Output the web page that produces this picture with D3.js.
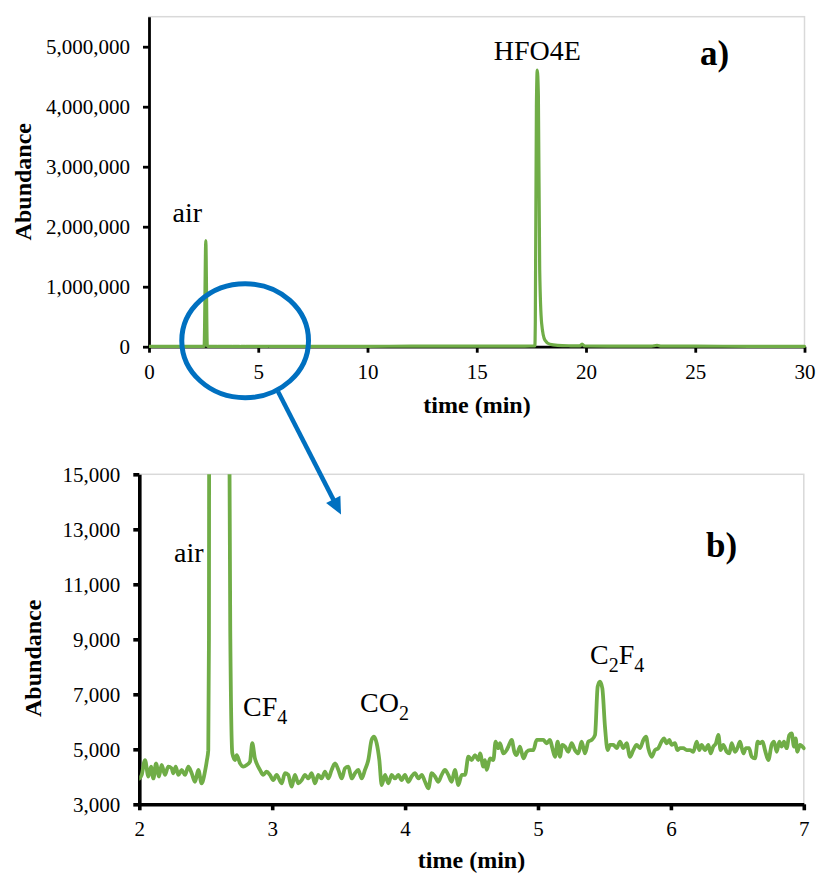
<!DOCTYPE html>
<html>
<head>
<meta charset="utf-8">
<script src="https://cdn.jsdelivr.net/npm/d3@7"></script>
<style>
  html, body { margin: 0; padding: 0; background: #fff; }
  svg { display: block; font-family: "Liberation Serif", "Times New Roman", serif; }
</style>
</head>
<body>
<svg id="chart" width="816" height="877"></svg>
<script>
// Chromatogram: retention time (min) and detector abundance
const timeMin = [
  0.00, 0.30, 0.70, 1.10, 1.50, 1.80,
  2.000, 2.018, 2.043, 2.068, 2.088, 2.106, 2.126, 2.148, 2.168, 2.193,
  2.218, 2.243, 2.256, 2.274, 2.294, 2.319, 2.344, 2.369, 2.394, 2.419,
  2.444, 2.469, 2.494, 2.509, 2.519, 2.524, 2.528, 2.600, 2.665, 2.685,
  2.700, 2.720, 2.733, 2.758, 2.783, 2.808, 2.833, 2.850, 2.870, 2.883,
  2.908, 2.933, 2.958, 2.983, 3.008, 3.033, 3.071, 3.096, 3.121, 3.146,
  3.171, 3.197, 3.222, 3.247, 3.272, 3.297, 3.322, 3.347, 3.372, 3.397,
  3.422, 3.447, 3.473, 3.498, 3.523, 3.548, 3.573, 3.598, 3.623, 3.648,
  3.673, 3.698, 3.723, 3.748, 3.766, 3.786, 3.806, 3.824, 3.849, 3.874,
  3.899, 3.924, 3.949, 3.974, 3.999, 4.024, 4.049, 4.074, 4.100, 4.125,
  4.150, 4.175, 4.200, 4.225, 4.250, 4.275, 4.300, 4.325, 4.350, 4.375,
  4.401, 4.426, 4.451, 4.476, 4.501, 4.526, 4.551, 4.564, 4.589, 4.601,
  4.614, 4.639, 4.664, 4.681, 4.701, 4.714, 4.739, 4.764, 4.777, 4.802,
  4.822, 4.839, 4.864, 4.890, 4.915, 4.940, 4.965, 4.990, 5.015, 5.040,
  5.065, 5.090, 5.108, 5.128, 5.148, 5.165, 5.183, 5.203, 5.228, 5.253,
  5.278, 5.303, 5.328, 5.354, 5.379, 5.404, 5.429, 5.449, 5.466, 5.484,
  5.504, 5.524, 5.542, 5.567, 5.592, 5.617, 5.642, 5.667, 5.692, 5.717,
  5.742, 5.767, 5.793, 5.813, 5.830, 5.855, 5.880, 5.905, 5.930, 5.948,
  5.968, 5.988, 6.006, 6.031, 6.048, 6.068, 6.093, 6.119, 6.144, 6.169,
  6.194, 6.214, 6.231, 6.257, 6.282, 6.299, 6.319, 6.339, 6.357, 6.374,
  6.394, 6.420, 6.440, 6.457, 6.482, 6.500, 6.520, 6.545, 6.565, 6.588,
  6.608, 6.633, 6.653, 6.670, 6.690, 6.708, 6.733, 6.758, 6.776, 6.796,
  6.816, 6.833, 6.851, 6.871, 6.891, 6.909, 6.926, 6.939, 6.951, 6.971,
  7.000,
  7.5, 8.5, 10, 12, 14, 16, 17.2, 17.66, 17.68, 17.73, 17.77, 17.82, 17.88,
  17.97, 18.12, 18.35, 18.7, 19.3, 19.72, 19.82, 19.93, 21, 23.0, 23.25,
  23.45, 25, 27.5, 30
];

const abundance = [
  4100, 4300, 4000, 4200, 4100, 4300,
  3940, 4070, 4610, 4010, 4370, 3940, 4490, 4010, 4430, 4070,
  4370, 4310, 4130, 4370, 4070, 4250, 4070, 4370, 4130, 3820,
  4250, 3760, 4190, 4610, 4970, 9000, 30000, 1770000, 30000, 9000,
  4850, 4610, 4790, 4490, 4370, 4430, 4550, 5220, 4670, 4490,
  4250, 4070, 4190, 4070, 3880, 4070, 3760, 4130, 4070, 3640,
  4070, 3760, 3880, 4070, 3940, 4130, 3760, 4070, 3940, 4190,
  3940, 4250, 4490, 4250, 3940, 4310, 4370, 3940, 4130, 4250,
  3940, 4250, 4610, 5340, 5460, 5220, 4610, 3700, 4070, 3760,
  4070, 3940, 4070, 3880, 4070, 3820, 4010, 4130, 3940, 4070,
  3820, 3580, 4130, 4010, 3820, 4070, 4250, 4070, 3820, 4250,
  3700, 4070, 4070, 4730, 4610, 4790, 4610, 4850, 4370, 4610,
  4250, 4670, 4610, 5280, 5040, 5220, 4850, 4970, 5100, 5340,
  4910, 4790, 5100, 4670, 4910, 4970, 4970, 5340, 5340, 5340,
  5220, 5340, 5040, 4730, 5280, 4730, 5160, 5100, 4910, 5220,
  4970, 4850, 5280, 4850, 5280, 5340, 5520, 7280, 7460, 7220,
  5820, 4970, 5160, 5160, 5040, 5280, 5040, 5220, 4730, 4970,
  5160, 5040, 5340, 5460, 5040, 4730, 4970, 5040, 5280, 5400,
  5220, 5340, 5160, 5220, 4970, 5040, 5040, 4970, 4970, 4910,
  5280, 4970, 5160, 4970, 5160, 4850, 5100, 5220, 5520, 4970,
  5160, 4910, 4850, 5220, 4910, 5040, 5280, 4850, 5040, 5040,
  4730, 4670, 5280, 5220, 5280, 4970, 4610, 5160, 5280, 4910,
  5280, 5100, 5280, 5040, 5520, 5580, 5100, 5400, 4910, 5160,
  5040,
  5100, 6000, 7000, 8000, 9000, 10000, 11000, 12000, 400000, 4000000, 4610000, 4200000, 1300000,
  390000, 110000, 40000, 22000, 15000, 13000, 45000, 13000, 10000, 9000, 24000,
  9000, 8000, 7000, 6500
];

// Axis ticks
const overviewXTicks = [0, 5, 10, 15, 20, 25, 30];
const overviewYTicks = [0, 1000000, 2000000, 3000000, 4000000, 5000000];
const zoomXTicks = [2, 3, 4, 5, 6, 7];
const zoomYTicks = [3000, 5000, 7000, 9000, 11000, 13000, 15000];

const series = timeMin.map((t, i) => ({ t, v: abundance[i] }));

const GREEN = "#70AD47";
const BLUE = "#0070C0";
const svg = d3.select("#chart");

function drawPanel(cfg) {
  const x = d3.scaleLinear().domain(cfg.xDomain).range([cfg.left, cfg.right]);
  const y = d3.scaleLinear().domain(cfg.yDomain).range([cfg.bottom, cfg.top]);
  const g = svg.append("g");

  // plot-area frame
  g.append("rect")
    .attr("x", cfg.left).attr("y", cfg.top)
    .attr("width", cfg.right - cfg.left).attr("height", cfg.bottom - cfg.top)
    .attr("fill", "none").attr("stroke", "#D9D9D9").attr("stroke-width", 1.5);

  const yAxis = d3.axisLeft(y).tickValues(cfg.yTicks).tickFormat(d3.format(","))
    .tickSize(6).tickSizeOuter(0).tickPadding(13);
  const xAxis = d3.axisBottom(x).tickValues(cfg.xTicks).tickFormat(d3.format("d"))
    .tickSize(6).tickSizeOuter(0).tickPadding(11);

  const ya = g.append("g").attr("transform", `translate(${cfg.left},0)`).call(yAxis);
  const xa = g.append("g").attr("transform", `translate(0,${cfg.bottom})`).call(xAxis);
  [ya, xa].forEach(a => {
    a.select(".domain").attr("stroke", "#000").attr("stroke-width", cfg.axisWidth);
    a.selectAll(".tick line").attr("stroke", "#000").attr("stroke-width", cfg.axisWidth);
    a.selectAll(".tick text").attr("fill", "#000")
      .style("font-family", '"Liberation Serif", "Times New Roman", serif')
      .style("font-size", "21px");
  });

  // trace
  const clipId = "clip" + cfg.id;
  svg.append("clipPath").attr("id", clipId).append("rect")
    .attr("x", cfg.left).attr("y", cfg.top)
    .attr("width", cfg.right - cfg.left + 2).attr("height", cfg.bottom - cfg.top + 3);
  const pts = series.filter(d => d.t >= cfg.xDomain[0] && d.t <= cfg.xDomain[1]);
  g.append("path").datum(pts)
    .attr("clip-path", `url(#${clipId})`)
    .attr("fill", "none").attr("stroke", GREEN).attr("stroke-width", cfg.lineWidth)
    .attr("stroke-linejoin", "round").attr("stroke-linecap", "round")
    .attr("d", d3.line().x(d => x(d.t)).y(d => y(d.v)).curve(d3.curveMonotoneX));

  // axis titles
  g.append("text")
    .attr("transform", `translate(${cfg.yTitleX},${(cfg.top + cfg.bottom) / 2 + cfg.yTitleDy}) rotate(-90)`)
    .attr("text-anchor", "middle").attr("dy", "0.35em")
    .attr("font-weight", "bold").attr("font-size", 24).text("Abundance");
  g.append("text")
    .attr("x", cfg.xTitleX).attr("y", cfg.xTitleY)
    .attr("text-anchor", "middle")
    .attr("font-weight", "bold").attr("font-size", 24).text("time (min)");

  // panel letter
  g.append("text")
    .attr("x", cfg.letterX).attr("y", cfg.letterY)
    .attr("font-weight", "bold").attr("font-size", 35).text(cfg.letter);

  return { x, y, g };
}

function peakLabel(g, xPos, yPos, parts, anchor) {
  const t = g.append("text").attr("x", xPos).attr("y", yPos)
    .attr("text-anchor", anchor || "start").attr("font-size", 28).attr("fill", "#000");
  let shifted = false;
  parts.forEach(p => {
    if (p.sub) {
      t.append("tspan").attr("font-size", 20).attr("dy", shifted ? 0 : 8).text(p.text);
      shifted = true;
    } else {
      t.append("tspan").attr("dy", shifted ? -8 : 0).text(p.text);
      shifted = false;
    }
  });
}

// a) full run
const A = drawPanel({
  id: "A", left: 149, right: 804.5, top: 16.7, bottom: 346.7,
  xDomain: [0, 30], yDomain: [0, 5500000],
  xTicks: overviewXTicks, yTicks: overviewYTicks,
  axisWidth: 2.8, lineWidth: 3.2,
  yTitleX: 23, yTitleDy: 0, xTitleX: 477, xTitleY: 413,
  letter: "a)", letterX: 700, letterY: 65
});
peakLabel(A.g, A.x(1.75), 222, [{ text: "air" }], "middle");
peakLabel(A.g, A.x(17.77), 60, [{ text: "HFO4E" }], "middle");

// b) 2–7 min detail
const B = drawPanel({
  id: "B", left: 139.3, right: 803.8, top: 474.3, bottom: 804.3,
  xDomain: [2, 7], yDomain: [3000, 15000],
  xTicks: zoomXTicks, yTicks: zoomYTicks,
  axisWidth: 3.6, lineWidth: 3.8,
  yTitleX: 32.5, yTitleDy: 19, xTitleX: 471.5, xTitleY: 868,
  letter: "b)", letterX: 706, letterY: 557
});
peakLabel(B.g, 174, 562, [{ text: "air" }]);
peakLabel(B.g, 243, 716, [{ text: "CF" }, { text: "4", sub: true }]);
peakLabel(B.g, 360, 712, [{ text: "CO" }, { text: "2", sub: true }]);
peakLabel(B.g, 590, 664, [{ text: "C" }, { text: "2", sub: true }, { text: "F" }, { text: "4", sub: true }]);

// zoom callout: ellipse around 2–7 min on the overview, arrow down to panel b
const cx = A.x(4.4), cy = A.y(0) - 6;
svg.append("ellipse")
  .attr("cx", cx).attr("cy", cy)
  .attr("rx", A.x(7.3) - cx).attr("ry", 57)
  .attr("fill", "none").attr("stroke", BLUE).attr("stroke-width", 5);

const start = [278, 391.5], tip = [341, 514.5];
const dx = tip[0] - start[0], dy = tip[1] - start[1];
const len = Math.hypot(dx, dy), ux = dx / len, uy = dy / len;
const headLen = 17, headHalf = 8;
const base = [tip[0] - ux * headLen, tip[1] - uy * headLen];
svg.append("line")
  .attr("x1", start[0]).attr("y1", start[1])
  .attr("x2", base[0] + ux * 2).attr("y2", base[1] + uy * 2)
  .attr("stroke", BLUE).attr("stroke-width", 4.5);
svg.append("path")
  .attr("d", `M${tip[0]},${tip[1]}L${base[0] - uy * headHalf},${base[1] + ux * headHalf}L${base[0] + uy * headHalf},${base[1] - ux * headHalf}Z`)
  .attr("fill", BLUE);
</script>
</body>
</html>
